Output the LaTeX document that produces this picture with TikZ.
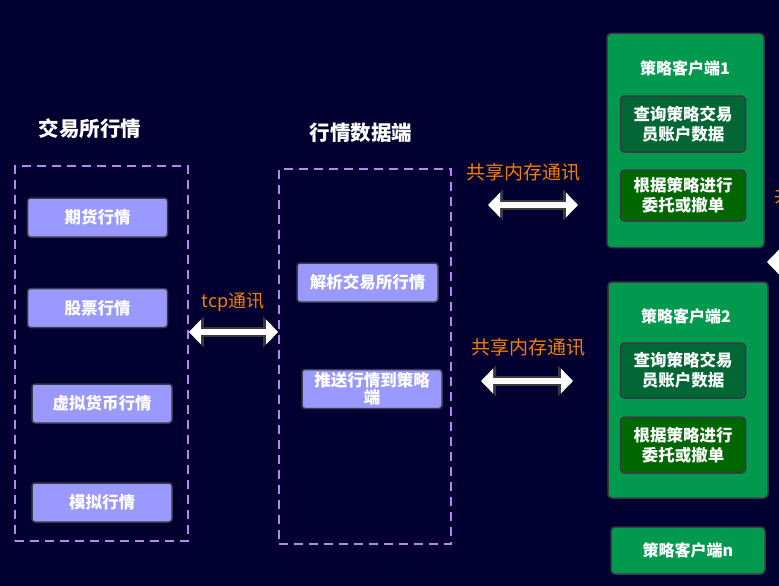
\documentclass[tikz,border=0pt]{standalone}
\usepackage{fontspec}
\setmainfont{Noto Sans CJK SC}
\usetikzlibrary{arrows.meta}
\definecolor{bgnavy}{HTML}{020030}
\definecolor{lavender}{HTML}{9999FF}
\definecolor{dashpurple}{HTML}{B983F0}
\definecolor{boxedge}{HTML}{3A3A48}
\definecolor{linkorange}{HTML}{F08000}
\definecolor{clientgreen}{HTML}{00994D}
\definecolor{querygreen}{HTML}{006633}
\definecolor{ordergreen}{HTML}{006600}
\definecolor{arrowedge}{HTML}{3A3A3A}

\begin{document}
\begin{tikzpicture}[x=1pt,y=-1pt,line width=1.5pt,
  title/.style={text=white,font=\bfseries\fontsize{20.5}{24}\selectfont},
  group/.style={draw=dashpurple,dash pattern=on 9pt off 6pt,line width=1.8pt},
  quote/.style={draw=boxedge,fill=lavender,rounded corners=3pt,text=white,
    font=\bfseries\fontsize{16.5}{19}\selectfont,minimum width=140pt,
    minimum height=39pt,inner sep=0pt,align=center},
  client/.style={draw=boxedge,fill=clientgreen,rounded corners=4pt},
  task/.style={draw=boxedge,rounded corners=4pt,text=white,align=center,
    font=\bfseries\fontsize{16.5}{20}\selectfont,minimum width=125pt,inner sep=0pt},
  link/.style={text=linkorange,font=\fontsize{19}{22}\selectfont},
  fatarrow/.style={white,line width=6pt,
    {Triangle[width=24pt,length=12pt]}-{Triangle[width=24pt,length=12pt]},
    preaction={draw=arrowedge,line width=10pt,
      {Triangle[width=30pt,length=15pt]}-{Triangle[width=30pt,length=15pt]}}}]

  \useasboundingbox (0,0) rectangle (779,586);
  \clip (0,0) rectangle (779,586);
  \fill[bgnavy] (0,0) rectangle (779,586);

  % exchange quotes
  \node[title] (exchT) at (90,129) {交易所行情};
  \node[group,minimum width=173pt,minimum height=375pt] (exch) at (101.5,353.5) {};
  \node[quote] (futures) at (97.5,217.5) {期货行情};
  \node[quote] (stocks) at (97.5,308) {股票行情};
  \node[quote] (crypto) at (102,403.5) {虚拟货币行情};
  \node[quote] (sim) at (102,502.5) {模拟行情};

  % market data server
  \node[title] (feedT) at (361,133) {行情数据端};
  \node[group,minimum width=172pt,minimum height=375pt] (feed) at (365,356.5) {};
  \node[quote,minimum width=141pt] (parse) at (367.5,282.5) {解析交易所行情};
  \node[quote,minimum width=140pt,font=\bfseries\fontsize{16.5}{17}\selectfont] (push) at (372,389) {推送行情到策略\\端};

  % tcp link
  \draw[fatarrow] (exch.east |- 0,332) -- (feed.west |- 0,332);
  \node[link,font=\fontsize{18}{21}\selectfont] (tcpT) at (233,302) {tcp通讯};

  % strategy clients
  \node[client,minimum width=157pt,minimum height=214pt] (c1) at (685.5,140.5) {};
  \node[text=white,font=\bfseries\fontsize{16}{18}\selectfont] (c1T) at (685,68) {策略客户端1};
  \node[task,fill=querygreen,minimum height=56pt] (c1q) at (683,124) {查询策略交易\\员账户数据};
  \node[task,fill=ordergreen,minimum height=51pt] (c1o) at (683,195.5) {根据策略进行\\委托或撤单};

  \node[client,minimum width=160pt,minimum height=216pt] (c2) at (688,390) {};
  \node[text=white,font=\bfseries\fontsize{16}{18}\selectfont] (c2T) at (686,316) {策略客户端2};
  \node[task,fill=querygreen,minimum height=55pt] (c2q) at (683,370.5) {查询策略交易\\员账户数据};
  \node[task,fill=ordergreen,minimum height=56pt] (c2o) at (683,445) {根据策略进行\\委托或撤单};

  \node[client,minimum width=154pt,minimum height=47pt,text=white,
    font=\bfseries\fontsize{16}{18}\selectfont] (cn) at (688,550.5) {策略客户端n};

  % shared memory links
  \coordinate (s1L) at (488,205);
  \coordinate (s1R) at (578,205);
  \draw[fatarrow] (s1L) -- (s1R);
  \node[link] (s1T) at (523,172) {共享内存通讯};
  \coordinate (s2L) at (481,381);
  \coordinate (s2R) at (573,381);
  \draw[fatarrow] (s2L) -- (s2R);
  \node[link] (s2T) at (528,347) {共享内存通讯};

  % cut off at the right edge
  \coordinate (s3L) at (767,262);
  \coordinate (s3R) at (860,262);
  \draw[fatarrow] (s3L) -- (s3R);
  \node[link,anchor=west,inner sep=0pt] (s3T) at (774,195) {共享内存通讯};
\end{tikzpicture}
\end{document}
